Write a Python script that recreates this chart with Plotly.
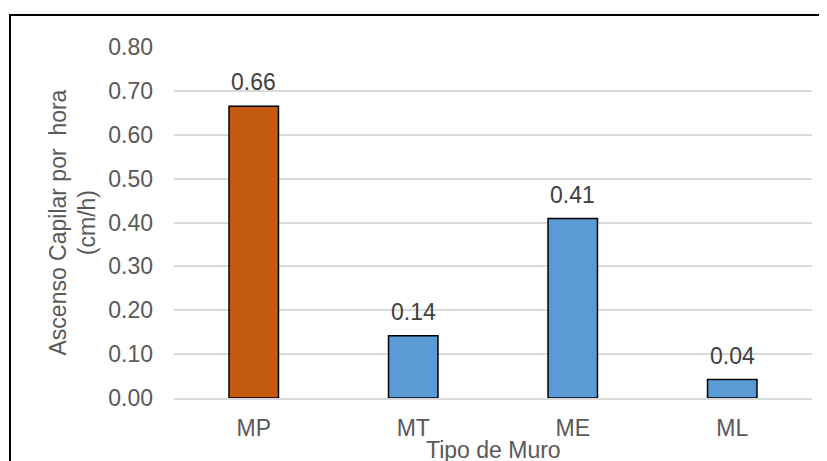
import plotly.graph_objects as go

categories = ["MP", "MT", "ME", "ML"]
values = [0.665, 0.142, 0.409, 0.042]
labels = ["0.66", "0.14", "0.41", "0.04"]
colors = ["#C55A11", "#5B9BD5", "#5B9BD5", "#5B9BD5"]
y_ticks = [0.0, 0.1, 0.2, 0.3, 0.4, 0.5, 0.6, 0.7, 0.8]
y_tick_labels = ["0.00", "0.10", "0.20", "0.30", "0.40", "0.50", "0.60", "0.70", "0.80"]

FONT = "Liberation Sans, Arial, sans-serif"
FS = 23

# page has an 8px body margin; layout is expressed in figure coordinates
OFF = 8
L, R, T, B = 174 - OFF, 812 - OFF, 47 - OFF, 398 - OFF
W, H = 827, 461
PW, PH = R - L, B - T

fig = go.Figure()
fig.add_trace(go.Bar(
    x=categories, y=values,
    marker=dict(color=colors, line=dict(color="black", width=1.5)),
    hoverinfo="skip",
))

for c, v, t in zip(categories, values, labels):
    fig.add_annotation(x=c, y=v, text=t, showarrow=False, yanchor="bottom",
                       yshift=9, font=dict(family=FONT, size=FS, color="#404040"))

fig.add_annotation(xref="paper", yref="paper", x=(72 - OFF - L) / PW, y=0.5,
                   text="Ascenso Capilar por  hora<br>(cm/h)", textangle=-90,
                   showarrow=False, xanchor="center", yanchor="middle",
                   font=dict(family=FONT, size=FS, color="#595959"))
fig.add_annotation(xref="paper", yref="paper", x=0.5, y=-(450 - OFF - B) / PH,
                   text="Tipo de Muro", showarrow=False, xanchor="center", yanchor="middle",
                   font=dict(family=FONT, size=FS, color="#595959"))

fig.add_shape(type="rect", xref="paper", yref="paper",
              x0=(10 - OFF - L) / PW, x1=1.2, y0=-0.5, y1=(B - (15 - OFF)) / PH,
              line=dict(color="black", width=2), fillcolor="rgba(0,0,0,0)", layer="below")

fig.update_layout(
    width=W, height=H,
    margin=dict(l=L, r=W - R, t=T, b=H - B, pad=0),
    paper_bgcolor="white", plot_bgcolor="white",
    bargap=0.69, showlegend=False,
    font=dict(family=FONT, size=FS, color="#595959"),
    xaxis=dict(showgrid=False, showline=True, linecolor="#D9D9D9", linewidth=1.5,
               ticks="", ticklabelstandoff=9, tickfont=dict(size=FS, color="#595959")),
    yaxis=dict(range=[0, 0.8], tickvals=y_ticks, ticktext=y_tick_labels,
               showgrid=True, gridcolor="#D9D9D9", gridwidth=1.5, zeroline=False,
               showline=False, ticks="", ticklabelstandoff=20,
               tickfont=dict(size=FS, color="#595959")),
)

fig.write_html("out.html")
